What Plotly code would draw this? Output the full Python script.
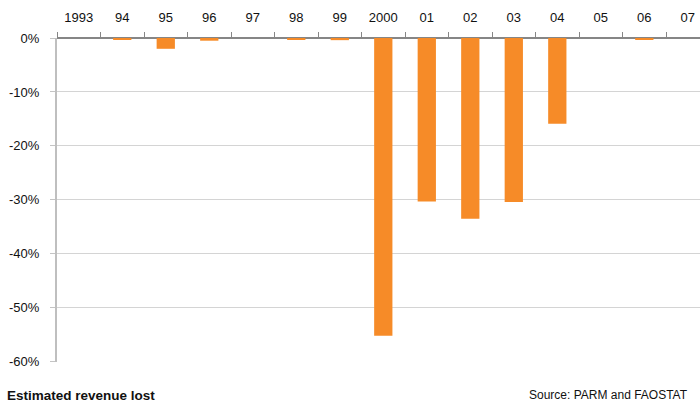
import plotly.graph_objects as go

years = ["1993", "94", "95", "96", "97", "98", "99", "2000", "01", "02", "03", "04", "05", "06", "07"]
revenue_lost = [0.0, -0.3, -2.0, -0.5, 0.0, -0.3, -0.4, -55.2, -30.3, -33.5, -30.4, -15.9, 0.0, -0.2, 0.0]
y_ticks = [0, -10, -20, -30, -40, -50, -60]
y_tick_labels = ["0%", "-10%", "-20%", "-30%", "-40%", "-50%", "-60%"]

FONT = "Liberation Sans, Arial, sans-serif"

W, H = 700, 403
ML, MT, MB = 57, 38, 41
PW = W - ML
PH = H - MT - MB

fig = go.Figure()
fig.add_trace(go.Bar(
    x=years, y=revenue_lost,
    marker=dict(color="#f68b28", line=dict(width=0)),
    width=0.42,
    hoverinfo="x+y",
))

fig.update_layout(
    width=W, height=H,
    margin=dict(l=ML, r=0, t=MT, b=MB, autoexpand=False),
    paper_bgcolor="white", plot_bgcolor="white",
    showlegend=False,
    font=dict(family=FONT, size=13, color="#111111"),
    xaxis=dict(
        type="category",
        side="top",
        range=[-0.5, 14.28],
        showgrid=False,
        showline=False,
        ticks="outside", tickson="boundaries", ticklen=5, tickcolor="#868686", tickwidth=1,
        tickfont=dict(size=13),
        ticklabelstandoff=12,
        zeroline=False,
        automargin=False,
    ),
    yaxis=dict(
        range=[-60.06, 0],
        tickvals=y_ticks, ticktext=y_tick_labels,
        showgrid=True, gridcolor="#d4d4d4", gridwidth=1,
        showline=True, linecolor="#bfbfbf", linewidth=2,
        ticks="outside", ticklen=5, tickcolor="#c4c4c4", tickwidth=1,
        zeroline=True, zerolinecolor="#868686", zerolinewidth=1.5,
        tickfont=dict(size=13),
        ticklabelstandoff=8,
        automargin=False,
    ),
    annotations=[
        dict(text="<b>Estimated revenue lost</b>", xref="paper", yref="paper",
             x=-(ML - 5) / PW, y=-(395 - 362) / PH, xanchor="left", yanchor="middle", showarrow=False,
             font=dict(family=FONT, size=13.5, color="#111111")),
        dict(text="Source: PARM and FAOSTAT", xref="paper", yref="paper",
             x=(690 - ML) / PW, y=-(395 - 362) / PH, xanchor="right", yanchor="middle", showarrow=False,
             font=dict(family=FONT, size=12, color="#111111")),
    ],
)

fig.write_html(
    "out.html",
    config={"displayModeBar": False},
    post_script="document.body.style.margin='0';document.body.style.overflow='hidden';",
)
